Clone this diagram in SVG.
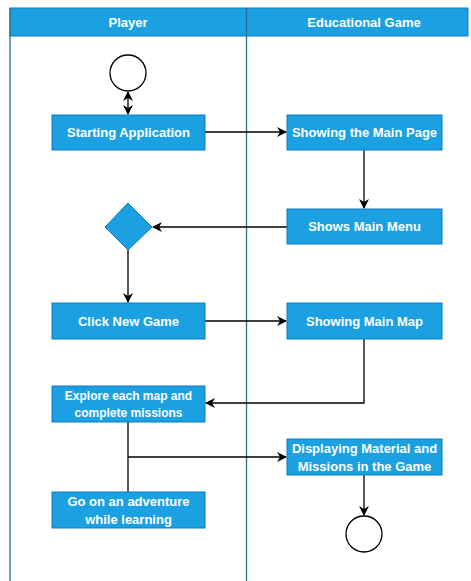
<svg xmlns="http://www.w3.org/2000/svg" width="471" height="581" viewBox="0 0 471 581">
<style>
.box{fill:#1ba1e2;stroke:#0b7dbf;stroke-width:1}
.t{font-family:"Liberation Sans",Arial,sans-serif;font-weight:bold;font-size:13px;fill:#ffffff;text-anchor:middle;dominant-baseline:central}
.ln{fill:none;stroke:#000;stroke-width:1.3}
.lane{fill:none;stroke:#2a6f8f;stroke-width:1.3}
.circ{fill:#fff;stroke:#000;stroke-width:1.3}
</style>
<defs>
<marker id="ah" viewBox="0 0 10 10" refX="9" refY="5" markerWidth="10" markerHeight="10" markerUnits="userSpaceOnUse" orient="auto-start-reverse">
<path d="M0,0 L10,5 L0,10 L3,5 Z" fill="#000"/>
</marker>
</defs>
<rect width="471" height="581" fill="#fff"/>
<g id="lanes">
<rect x="10" y="8" width="458" height="28" fill="#1ba1e2" stroke="#0b7dbf"/>
<line class="lane" x1="10" y1="8" x2="10" y2="581"/>
<line class="lane" x1="246.5" y1="8" x2="246.5" y2="581"/>
<text class="t" x="128" y="22">Player</text>
<text class="t" x="364" y="22">Educational Game</text>
</g>
<g id="connectors">
<line class="ln" x1="128" y1="92" x2="128" y2="114" marker-start="url(#ah)" marker-end="url(#ah)"/>
<line class="ln" x1="205" y1="132" x2="286" y2="132" marker-end="url(#ah)"/>
<line class="ln" x1="364" y1="150" x2="364" y2="208" marker-end="url(#ah)"/>
<line class="ln" x1="287" y1="227" x2="153" y2="227" marker-end="url(#ah)"/>
<line class="ln" x1="128" y1="250" x2="128" y2="302" marker-end="url(#ah)"/>
<line class="ln" x1="205" y1="321" x2="286" y2="321" marker-end="url(#ah)"/>
<polyline class="ln" points="364,339 364,403 206,403" marker-end="url(#ah)"/>
<line class="ln" x1="128" y1="422" x2="128" y2="492"/>
<line class="ln" x1="128" y1="457" x2="286" y2="457" marker-end="url(#ah)"/>
<line class="ln" x1="364" y1="475" x2="364" y2="515" marker-end="url(#ah)"/>
</g>
<g id="start"><circle class="circ" cx="128" cy="73" r="18"/></g>
<g id="starting-application"><rect class="box" x="52" y="115" width="153" height="35"/><text class="t" x="128.5" y="132.5">Starting Application</text></g>
<g id="showing-main-page"><rect class="box" x="287" y="115" width="155" height="35"/><text class="t" x="364.5" y="132.5">Showing the Main Page</text></g>
<g id="shows-main-menu"><rect class="box" x="287" y="209" width="155" height="35"/><text class="t" x="364.5" y="226.5">Shows Main Menu</text></g>
<g id="decision"><polygon class="box" points="128,203 152,227 128,250 105,227"/></g>
<g id="click-new-game"><rect class="box" x="52" y="303" width="153" height="36"/><text class="t" x="128.5" y="321">Click New Game</text></g>
<g id="showing-main-map"><rect class="box" x="287" y="303" width="155" height="36"/><text class="t" x="364.5" y="321">Showing Main Map</text></g>
<g id="explore"><rect class="box" x="52" y="386" width="153" height="36"/><text class="t" style="font-size:12px" x="128.5" y="396">Explore each map and</text><text class="t" style="font-size:12px" x="128.5" y="413">complete missions</text></g>
<g id="displaying"><rect class="box" x="287" y="439" width="155" height="36"/><text class="t" x="364.5" y="448.5">Displaying Material and</text><text class="t" x="364.5" y="466">Missions in the Game</text></g>
<g id="adventure"><rect class="box" x="52" y="492" width="153" height="36"/><text class="t" x="128.5" y="501.5">Go on an adventure</text><text class="t" x="128.5" y="519">while learning</text></g>
<g id="end"><circle class="circ" cx="364" cy="534" r="18"/></g>
</svg>
